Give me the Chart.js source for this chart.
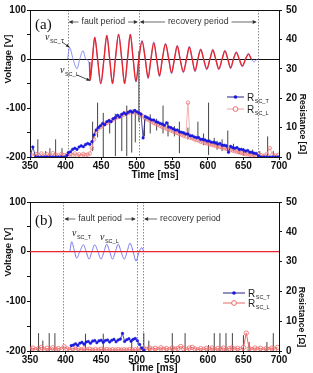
<!DOCTYPE html>
<html><head><meta charset="utf-8">
<script src="https://cdn.jsdelivr.net/npm/chart.js@4.4.1/dist/chart.umd.min.js"></script>
<style>
html,body{margin:0;padding:0;background:#fff;}
canvas{display:block;}
</style></head><body>
<canvas id="ca" width="313" height="186" style="width:313px;height:186px"></canvas>
<canvas id="cb" width="313" height="187" style="width:313px;height:187px"></canvas>
<script>
// ---------------- DATA ----------------
const xTicks = [350, 400, 450, 500, 550, 600, 650, 700];
const vTicks = [-200, -100, 0, 100];
const rTicks = [0, 10, 20, 30, 40, 50];

// Panel (a) voltages [V] vs time [ms]
const tVL_a = [434, 434.3, 437.7, 441, 445, 449.5, 454, 458, 462, 466, 470, 474.5, 479, 483, 487, 491, 495, 499, 503, 507.5, 512, 516, 520, 524, 528, 532, 536, 540.5, 545, 549, 553, 557, 561, 565.5, 570, 574, 578, 582, 586, 590, 594, 598.5, 603, 607, 611, 615.5, 620, 624, 628, 632, 636, 640, 644, 648.5, 653, 657, 661];
const vL_a  = [-6, -44, 0, 44, 0, -50, 0, 48, 0, -50, 0, 50, 0, -50, 0, 50, 0, -46, 0, 36, 0, -38, 0, 33, 0, -34, 0, 30, 0, -28, 0, 26, 0, -26, 0, 24, 0, -24, 0, 19, 0, -20, 0, 18, 0, -20, 0, 16, 0, -18, 0, 13, 0, -14, 0, 10, 0];
const tVT_a = [403, 405.5, 410.5, 416, 420, 424.5, 428.5, 433, 434.3, 437.7, 441, 445, 449.5, 454, 458, 462, 466, 470, 474.5, 479, 483, 487, 491, 495, 499, 503, 507.5, 512, 516, 520, 524, 528, 532, 536, 540.5, 545, 549, 553, 557, 561, 565.5, 570, 574, 578, 582, 586, 590, 594, 598.5, 603, 607, 611, 615.5, 620, 624, 628, 632, 636, 640, 644, 648.5, 653, 657, 661, 665, 669];
const vT_a  = [0, 24, 0, -20, 0, 17, 0, -8, -44, 0, 45, 0, -51, 0, 49, 0, -51, 0, 51, 0, -51, 0, 51, 0, -47, 0, 38, 0, -40, 0, 35, 0, -36, 0, 32, 0, -30, 0, 28, 0, -28, 0, 26, 0, -26, 0, 21, 0, -22, 0, 20, 0, -22, 0, 18, 0, -20, 0, 15, 0, -16, 0, 12, 0, -6, 0];

// Panel (a) resistances [ohm]
const tR_a = [350,354,358,362,366,370,374,378,382,386,390,394,398,402,
  404,407,410,413,416,419,422,425,428,431,434,437,440,443,446,449,452,455,458,461,
  464,467,470,473,476,479,482,485,488,491,494,497,500,503,506,509,512,515,518,521,
  524,527,530,533,536,539,542,545,548,551,554,557,560,563,566,569,572,575,578,581,
  584,587,590,593,596,599,602,605,608,611,614,617,620,623,626,629,632,635,638,641,
  644,647,650,653,656,659,662,665,668,671,
  675,679,683,687,691,695,699];
const RT_a = [0,3.4,0,0,0,0,0,0,0,0,0,0,0,0.5,
  1.5,1.8,2.6,3.0,2.6,3.4,3.8,3.5,4.2,4.6,
  4.3,5.2,7.5,9.2,10.0,10.6,11.4,11.0,12.0,12.4,
  12.0,13.0,13.4,14.2,13.6,14.5,15.0,14.6,15.2,15.6,
  15.2,15.8,15.4,15.0,14.6,6.5,13.8,13.4,13.0,12.6,
  12.6,12.0,11.8,11.4,11.2,10.8,11.6,10.2,10.0,9.6,
  9.2,9.2,8.6,8.4,8.2,7.8,7.8,7.2,7.2,6.8,
  6.6,6.6,6.0,6.0,5.8,5.4,5.4,5.0,5.0,4.8,
  4.4,4.6,4.0,4.0,3.8,1.6,3.6,3.2,3.0,3.2,
  2.6,2.6,2.4,2.0,2.2,1.6,1.6,1.3,1.2,0.4,
  0,0,0,0,0,0,0];
const RL_a = [0.8,0.4,1.0,0.6,1.2,0.5,0.9,0.4,1.3,0.7,0.5,1.0,0.6,0.8,
  0.5,1.0,0.6,1.2,0.5,0.9,0.4,1.0,0.6,0.8,
  1.2,3.0,6.0,8.4,9.6,10.2,10.8,11.2,11.6,12.0,
  12.4,12.8,13.2,13.6,13.8,14.2,14.4,14.8,15.0,15.2,
  15.4,15.2,15.0,14.8,14.2,13.8,13.2,12.8,12.4,12.0,
  11.6,11.2,11.0,10.6,10.2,10.0,9.6,9.4,9.0,8.8,
  8.4,8.2,7.8,7.6,7.2,7.0,18.5,6.6,6.4,6.0,
  5.8,5.6,5.2,5.0,4.8,4.6,4.4,4.2,4.0,3.8,
  3.6,3.4,3.2,3.0,2.8,2.6,2.4,2.2,2.0,1.8,
  1.6,1.4,1.2,1.0,0.9,0.8,0.6,0.8,0.5,0.9,
  0.6,0.4,1.0,3.0,0.8,0.5,0.7];
// Panel (a) raw-resistance spikes: time, low, high [ohm]
const spT_a  = [361,372,378,386,395,438,445,453,462,470,479,486,493,498,503,511,519,528,537,544,553,560,572,586,594,601,609,613,620,628,636,644,650,663,673,684,692];
const spLo_a = [0,0,0,0,0,2,6.7,0,8,0.3,2,0.3,1.5,5,12,7,8,9,8,7,7,1.3,6,6.5,4,0.7,4,2.5,2,2,2,1,0.5,0.5,0,0,0];
const spHi_a = [6,2,3,6,3,12,18.5,15,12.5,14.7,14,17.5,16,16.3,36,12.5,14.5,13,17.5,12,10.5,12,10,12,8,18.5,6.5,5.5,6,9,4.5,3,3,2.5,2,7,2];

// Panel (b) voltages
const tVL_b = [350, 700];
const vL_b  = [0, 0];
const tVT_b = [406, 408.6, 412, 415.6, 420, 425, 429, 433, 437, 441, 445.5, 449.8, 454, 457.8, 462, 466, 470, 474, 478, 482.5, 486.5, 490.6, 495, 499, 503, 507, 510];
const vT_b  = [0, 20, 4, -13, 0, 14, 0, -15, 0, 14, 0, -15, 0, 15, 0, -15, 0, 15, 0, -15, 0, 17, 0, -19, -2, 8, 0];

// Panel (b) resistances
const tRT_b = [408,411,414,417,420,423,426,429,432,435,438,441,444,447,450,453,456,459,462,465,468,471,474,477,480,483,486,489,492,495,498,501,504,507,510];
const RT_b  = [1.8,2.0,2.4,1.9,2.6,2.9,2.3,3.0,3.2,2.6,3.3,3.5,2.8,3.4,3.6,2.9,3.5,3.7,3.0,3.6,3.9,3.1,3.7,4.0,5.9,3.2,3.8,4.1,3.3,3.9,4.2,3.4,2.2,1.0,0.2];
const tRL_b = [350,354,358,362,366,370,374,378,382,386,390,394,398,402,406,410,414,418,422,426,
  430,434,438,442,446,450,454,458,462,466,470,474,478,482,486,490,494,498,502,506,
  510,514,518,522,526,530,534,538,542,546,550,554,558,562,566,570,574,578,582,586,
  590,594,598,602,606,610,614,618,622,626,630,634,638,642,646,650,654,658,662,666,
  670,674,678,682,686,690,694,698];
const RL_b  = [0.6,1.0,0.4,0.8,1.2,0.5,0.9,0.4,1.1,0.6,
  0.8,0.5,1.4,0.7,0.4,0.9,0.5,0.8,0.3,0.7,
  0.4,0.6,0.3,0.5,0.3,0.6,0.3,0.5,0.3,0.4,
  0.3,0.5,0.3,0.4,0.3,0.5,0.3,0.4,0.3,0.5,
  0.8,0.5,1.0,0.6,0.9,0.5,1.1,0.6,0.8,0.5,
  1.0,0.6,0.9,1.5,0.8,0.5,1.0,1.2,0.7,0.4,
  0.8,0.5,0.9,0.6,1.0,0.5,0.8,0.6,1.0,0.5,
  0.8,1.1,0.6,0.9,0.5,1.2,6.0,0.8,0.5,1.0,
  0.6,0.9,0.4,0.8,0.5,1.0,0.6,1.2];
const spT_b  = [362,368,377,385,428,453,493,510,517,550,568,601,609,617,625.5,634.5,650,658,683,692];
const spLo_b = [0,0,0,0,0,0,0,0,0,0,0,0,0,0,0,0,0,0,0,0];
const spHi_b = [6,3.5,6,6,5.8,5.8,4,6,3.5,6,6,2,6,6,6,6,5.3,3,3,6];

// ---------------- HELPERS ----------------
const SANS = '"Liberation Sans", Arial, sans-serif';
const SERIF = '"Liberation Serif", "Times New Roman", serif';
function pts(xs, ys){ return xs.map((x,i)=>({x:x, y:ys[i]})); }
function spikes(ts, lo, hi){
  const out = [];
  ts.forEach((t,i)=>{ out.push({x:t,y:lo[i]}); out.push({x:t,y:hi[i]}); out.push({x:t,y:null}); });
  return out;
}
function arrowHead(ctx, x, y, ang, len, hw){
  ctx.beginPath();
  ctx.moveTo(x, y);
  ctx.lineTo(x - len*Math.cos(ang) + hw*Math.sin(ang), y - len*Math.sin(ang) - hw*Math.cos(ang));
  ctx.lineTo(x - len*Math.cos(ang) - hw*Math.sin(ang), y - len*Math.sin(ang) + hw*Math.cos(ang));
  ctx.closePath(); ctx.fill();
}
function subText(ctx, x, y, main, sub, mainFont, subFont){
  ctx.textAlign='left'; ctx.textBaseline='alphabetic';
  ctx.font = mainFont; ctx.fillText(main, x, y);
  const w = ctx.measureText(main).width;
  ctx.font = subFont; ctx.fillText(sub, x + w + 0.5, y + 2.5);
}

function makeAnno(cfg){
  return {
    id: 'anno_' + cfg.name,
    beforeDatasetsDraw(chart){
      const ctx = chart.ctx, a = chart.chartArea, sx = chart.scales.x;
      ctx.save();
      ctx.strokeStyle = '#8a8a8a'; ctx.lineWidth = 1; ctx.setLineDash([1.5,1.5]);
      cfg.vlines.forEach(t=>{
        const px = Math.round(sx.getPixelForValue(t)) + 0.5;
        ctx.beginPath(); ctx.moveTo(px, a.top); ctx.lineTo(px, a.bottom); ctx.stroke();
      });
      ctx.restore();
    },
    afterDraw(chart){
      const ctx = chart.ctx, a = chart.chartArea, sx = chart.scales.x, sy = chart.scales.y;
      ctx.save();
      // top frame line
      ctx.strokeStyle = '#111'; ctx.lineWidth = 1;
      ctx.beginPath(); ctx.moveTo(a.left, Math.round(a.top)+0.5); ctx.lineTo(a.right, Math.round(a.top)+0.5); ctx.stroke();
      // axis titles
      ctx.fillStyle = '#111'; ctx.textAlign='center'; ctx.textBaseline='middle';
      ctx.save(); ctx.translate(cfg.vTitle[0], cfg.vTitle[1]); ctx.rotate(-Math.PI/2);
      ctx.font = 'bold 9.5px ' + SANS; ctx.fillText('Voltage [V]', 0, 0); ctx.restore();
      ctx.save(); ctx.translate(cfg.rTitle[0], cfg.rTitle[1]); ctx.rotate(Math.PI/2);
      ctx.font = 'bold 8.6px ' + SANS; ctx.fillText('Resistance [\u03A9]', 0, 0); ctx.restore();
      ctx.font = 'bold 10px ' + SANS; ctx.fillText('Time [ms]', cfg.tTitle[0], cfg.tTitle[1]);
      // panel label
      ctx.textAlign='left'; ctx.textBaseline='alphabetic';
      ctx.font = '15px ' + SERIF; ctx.fillStyle = '#111';
      ctx.fillText(cfg.label, cfg.labelPos[0], cfg.labelPos[1]);
      // periods
      ctx.font = '8.8px ' + SANS;
      cfg.periods.forEach(p=>{
        const x1 = sx.getPixelForValue(p.t1);
        const x2 = p.t2 != null ? sx.getPixelForValue(p.t2) : null;
        const w = ctx.measureText(p.text).width;
        const tx = p.textOffset != null ? x1 + p.textOffset : (x1 + x2)/2 - w/2;
        const y = cfg.periodY;
        ctx.fillStyle = '#333'; ctx.textBaseline='middle'; ctx.textAlign='left';
        ctx.fillText(p.text, tx, y);
        ctx.strokeStyle = '#444'; ctx.lineWidth = 0.8; ctx.fillStyle = '#333';
        if (p.left){
          ctx.beginPath(); ctx.moveTo(x1+2, y); ctx.lineTo(tx-3, y); ctx.stroke();
          arrowHead(ctx, x1+1, y, Math.PI, 4, 2);
        }
        if (p.right){
          ctx.beginPath(); ctx.moveTo(tx+w+3, y); ctx.lineTo(x2-2, y); ctx.stroke();
          arrowHead(ctx, x2-1, y, 0, 4, 2);
        }
      });
      // v labels
      cfg.vlabels.forEach(v=>{
        ctx.fillStyle = '#222';
        subText(ctx, v.x, v.y, 'v', v.sub, 'italic 10px ' + SERIF, '5.5px ' + SANS);
        if (v.from){
          const px = sx.getPixelForValue(v.to[0]), py = sy.getPixelForValue(v.to[1]);
          ctx.strokeStyle = '#222'; ctx.lineWidth = 0.8;
          ctx.beginPath(); ctx.moveTo(v.from[0], v.from[1]); ctx.lineTo(px, py); ctx.stroke();
          const ang = Math.atan2(py - v.from[1], px - v.from[0]);
          arrowHead(ctx, px, py, ang, 3.5, 1.6);
        }
      });
      // legend
      const L = cfg.legend;
      [[L.y1, 'T'], [L.y2, 'L']].forEach(([y, k])=>{
        const isT = k === 'T';
        ctx.strokeStyle = isT ? '#22228a' : L.lColor; ctx.lineWidth = 1;
        ctx.beginPath(); ctx.moveTo(L.x1, y); ctx.lineTo(L.x2, y); ctx.stroke();
        const cx = (L.x1 + L.x2)/2;
        ctx.beginPath();
        if (isT){ ctx.fillStyle = '#1818e0'; ctx.arc(cx, y, 1.8, 0, Math.PI*2); ctx.fill(); }
        else { ctx.strokeStyle = '#ee6a6a'; ctx.fillStyle='#fff'; ctx.arc(cx, y, 2.4, 0, Math.PI*2); ctx.fill(); ctx.stroke(); }
        ctx.fillStyle = '#222';
        subText(ctx, L.xt, y + 3.5, 'R', isT ? 'SC_T' : 'SC_L', '10px ' + SANS, '5.5px ' + SANS);
      });
      ctx.restore();
    }
  };
}

const tickFont = {family: SANS, size: 10, weight: 'bold'};
function makeChart(id, datasets, cfg, xH, padTop, zeroLine){
  return new Chart(document.getElementById(id), {
    type: 'line',
    data: { datasets: datasets },
    options: {
      responsive: false, animation: false, devicePixelRatio: 1, events: [],
      layout: { padding: { top: padTop, left: 0, right: 0, bottom: 0 } },
      plugins: { legend: {display:false}, tooltip: {enabled:false} },
      elements: { line: { tension: 0 } },
      scales: {
        x: { type: 'linear', min: 350, max: 700, offset: false,
          afterBuildTicks: s => { s.ticks = xTicks.map(v=>({value:v})); },
          ticks: { color:'#111', font: tickFont, padding: 0, maxRotation: 0, autoSkip: false },
          grid: { drawOnChartArea: false, drawTicks: true, tickLength: 3, tickColor: '#111' },
          border: { display: true, color: '#111', width: 1 },
          afterFit: s => { s.height = xH; } },
        y: { type: 'linear', position: 'left', min: -200, max: 100,
          ticks: { stepSize: 50, color:'#111', font: tickFont, padding: 1,
            callback: v => (vTicks.indexOf(v) >= 0 ? String(v) : '') },
          grid: { drawOnChartArea: zeroLine, drawTicks: true, tickLength: 3, tickColor: '#111',
            color: c => (c.tick && c.tick.value === 0) ? '#111' : 'rgba(0,0,0,0)' },
          border: { display: true, color: '#111', width: 1 },
          afterFit: s => { s.width = 30; } },
        yR: { type: 'linear', position: 'right', min: 0, max: 50,
          ticks: { stepSize: 5, color:'#111', font: tickFont, padding: 4,
            callback: v => (rTicks.indexOf(v) >= 0 ? String(v) : '') },
          grid: { drawOnChartArea: false, drawTicks: true, tickLength: 3, tickColor: '#111' },
          border: { display: true, color: '#111', width: 1 },
          afterFit: s => { s.width = 34; } }
      }
    },
    plugins: [makeAnno(cfg)]
  });
}

// ---------------- PANEL (a) ----------------
makeChart('ca', [
  { label:'v_sc_L', data: pts(tVL_a, vL_a), yAxisID:'y', borderColor:'#e8262c', borderWidth:1.4, pointRadius:0, cubicInterpolationMode:'monotone', fill:false },
  { label:'v_sc_T', data: pts(tVT_a, vT_a), yAxisID:'y', borderColor:'#7272ee', borderWidth:0.8, pointRadius:0, cubicInterpolationMode:'monotone', fill:false },
  { label:'R_sc_T', data: pts(tR_a, RT_a), yAxisID:'yR', borderColor:'#22228a', borderWidth:0.8, pointRadius:1.3, pointBackgroundColor:'#1818e0', pointBorderColor:'#1818e0', pointBorderWidth:0.5 },
  { label:'R_sc_L', data: pts(tR_a, RL_a), yAxisID:'yR', borderColor:'#f2a0a0', borderWidth:0.8, pointRadius:1.8, pointBackgroundColor:'rgba(255,255,255,0)', pointBorderColor:'#ee7a7a', pointBorderWidth:0.8 },
  { label:'raw', data: spikes(spT_a, spLo_a, spHi_a), yAxisID:'yR', borderColor:'#151515', borderWidth:0.8, pointRadius:0, spanGaps:false }
], {
  name:'a', vlines:[403, 503, 670],
  vTitle:[8, 59], rTitle:[302, 124], tTitle:[155, 175],
  label:'(a)', labelPos:[35, 29],
  periodY: 22,
  periods:[ {t1:403, t2:503, text:'fault period', left:true, right:true},
            {t1:503, t2:670, text:'recovery period', left:true, right:true} ],
  vlabels:[ {x:45, y:40, sub:'SC_T', from:[62,42], to:[405.5, 24]},
            {x:60, y:73, sub:'SC_L', from:[77,75], to:[434.3, -44]} ],
  legend:{ x1:227, x2:244, xt:247, y1:97, y2:109, lColor:'#f2a0a0' }
}, 29, 8, true);

// ---------------- PANEL (b) ----------------
makeChart('cb', [
  { label:'v_sc_L', data: pts(tVL_b, vL_b), yAxisID:'y', borderColor:'#e8262c', borderWidth:1.2, pointRadius:0, fill:false },
  { label:'v_sc_T', data: pts(tVT_b, vT_b), yAxisID:'y', borderColor:'#7777ee', borderWidth:1, pointRadius:0, cubicInterpolationMode:'monotone', fill:false },
  { label:'R_sc_T', data: pts(tRT_b, RT_b), yAxisID:'yR', borderColor:'#22228a', borderWidth:0.8, pointRadius:1.3, pointBackgroundColor:'#1818e0', pointBorderColor:'#1818e0', pointBorderWidth:0.5 },
  { label:'R_sc_L', data: pts(tRL_b, RL_b), yAxisID:'yR', borderColor:'#e86a6a', borderWidth:1, pointRadius:2.2, pointBackgroundColor:'rgba(255,255,255,0)', pointBorderColor:'#ee6a6a', pointBorderWidth:0.8 },
  { label:'raw', data: spikes(spT_b, spLo_b, spHi_b), yAxisID:'yR', borderColor:'#151515', borderWidth:0.8, pointRadius:0, spanGaps:false }
], {
  name:'b', vlines:[397, 500, 509],
  vTitle:[8, 66], rTitle:[301, 131], tTitle:[154, 182],
  label:'(b)', labelPos:[35, 39],
  periodY: 33,
  periods:[ {t1:397, t2:500, text:'fault period', left:true, right:true},
            {t1:509, t2:null, text:'recovery period', left:true, right:false, textOffset:17} ],
  vlabels:[ {x:72, y:50, sub:'SC_T', from:null},
            {x:100, y:54, sub:'SC_L', from:null} ],
  legend:{ x1:223, x2:245, xt:248, y1:107, y2:117, lColor:'#e86a6a' }
}, 22, 16, false);
</script>
</body></html>
